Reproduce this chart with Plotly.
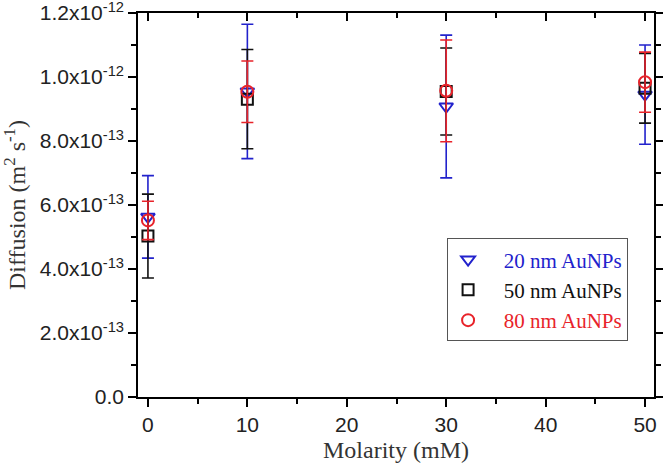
import plotly.graph_objects as go

molarity = [0, 10, 30, 50]

d20 = [5.63e-13, 9.55e-13, 9.08e-13, 9.45e-13]
e20 = [1.29e-13, 2.10e-13, 2.23e-13, 1.55e-13]

d50 = [5.03e-13, 9.31e-13, 9.55e-13, 9.65e-13]
e50 = [1.31e-13, 1.55e-13, 1.36e-13, 1.09e-13]

d80 = [5.52e-13, 9.54e-13, 9.57e-13, 9.84e-13]
e80 = [0.60e-13, 0.96e-13, 1.59e-13, 0.94e-13]

names = ["20 nm AuNPs", "50 nm AuNPs", "80 nm AuNPs"]
colors = ["#2222cc", "#111111", "#e8232a"]
symbols = ["triangle-down-open", "square-open", "circle-open"]
sizes = [12, 11, 12]

ytickvals = [0, 2e-13, 4e-13, 6e-13, 8e-13, 1.0e-12, 1.2e-12]
yticktext = ["0.0", "2.0x10<sup>-13</sup>", "4.0x10<sup>-13</sup>", "6.0x10<sup>-13</sup>",
             "8.0x10<sup>-13</sup>", "1.0x10<sup>-12</sup>", "1.2x10<sup>-12</sup>"]
xtickvals = [0, 10, 20, 30, 40, 50]

fig = go.Figure()
for ys, es, nm, c, s, sz in zip([d20, d50, d80], [e20, e50, e80], names, colors, symbols, sizes):
    fig.add_trace(go.Scatter(
        x=molarity, y=ys, mode="markers",
        name="\u00a0\u00a0\u00a0<span style='color:%s'>%s</span>" % (c, nm),
        marker=dict(symbol=s, size=sz, color=c, line=dict(width=2, color=c)),
        error_y=dict(type="data", array=es, visible=True, color=c, thickness=1.6, width=6),
    ))

# invisible trace for top axis ticks
fig.add_trace(go.Scatter(x=[0], y=[0], xaxis="x2", yaxis="y", mode="markers",
                         marker=dict(opacity=0), showlegend=False, hoverinfo="skip"))

tick_font = dict(family="Liberation Sans, Arial, sans-serif", size=21, color="#222")
title_font = dict(family="Liberation Serif, Times New Roman, serif", size=24, color="#333")

fig.update_layout(
    width=663, height=468,
    margin=dict(l=138, r=9, t=13, b=71),
    paper_bgcolor="white", plot_bgcolor="white",
    showlegend=True,
    legend=dict(x=0.599, y=0.413, xanchor="left", yanchor="top",
                bgcolor="white", bordercolor="#555", borderwidth=1,
                font=dict(family="Liberation Serif, Times New Roman, serif", size=21, color="#111"),
                tracegroupgap=0, itemwidth=30),
    xaxis=dict(range=[-1.0, 50.9], tickvals=xtickvals, ticks="outside", ticklen=8, tickwidth=1.5,
               tickcolor="black", showline=True, linecolor="black", linewidth=1.5, mirror=True,
               showgrid=False, zeroline=False, tickfont=tick_font, automargin=False,
               minor=dict(dtick=5, tick0=0, ticks="outside", ticklen=5, tickwidth=1.5, tickcolor="black"),
               title=dict(text="Molarity (mM)", font=title_font, standoff=6)),
    xaxis2=dict(range=[-1.0, 50.9], overlaying="x", side="top", tickvals=xtickvals, ticks="inside",
                ticklen=8, tickwidth=1.5, tickcolor="black", showticklabels=False, showgrid=False,
                zeroline=False, showline=False, automargin=False,
                minor=dict(dtick=5, tick0=0, ticks="inside", ticklen=5, tickwidth=1.5, tickcolor="black")),
    yaxis=dict(range=[0, 1.2002e-12], tickvals=ytickvals, ticktext=yticktext, ticks="outside", ticklen=8,
               tickwidth=1.5, tickcolor="black", showline=True, linecolor="black", linewidth=1.5,
               mirror="ticks", showgrid=False, zeroline=False, tickfont=tick_font, automargin=False,
               ticklabeloverflow="allow",
               minor=dict(dtick=1e-13, tick0=0, ticks="outside", ticklen=5, tickwidth=1.5, tickcolor="black"),
               title=dict(text="Diffusion (m<sup>2</sup> s<sup>-1</sup>)", font=title_font, standoff=8)),
)

fig.write_html("out.html", config={"displayModeBar": False},
               post_script="document.body.style.margin='0';document.body.style.overflow='hidden';")
